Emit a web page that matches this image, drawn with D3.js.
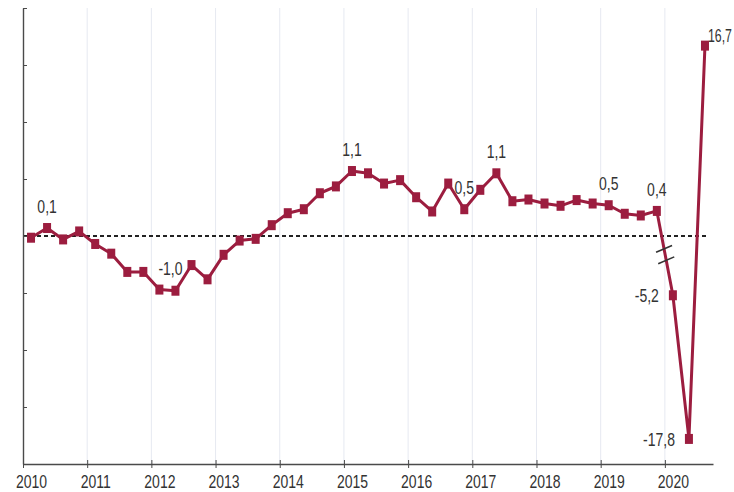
<!DOCTYPE html>
<html>
<head>
<meta charset="utf-8">
<script src="https://cdn.jsdelivr.net/npm/d3@7"></script>
<style>
  html, body { margin: 0; padding: 0; background: #fff; }
  svg { display: block; }
  text { font-family: "Liberation Sans", Arial, sans-serif; }
</style>
</head>
<body>
<svg id="chart" width="734" height="492"></svg>
<script>
// ---- Data ----
const quarters = [
  "2010T1","2010T2","2010T3","2010T4",
  "2011T1","2011T2","2011T3","2011T4",
  "2012T1","2012T2","2012T3","2012T4",
  "2013T1","2013T2","2013T3","2013T4",
  "2014T1","2014T2","2014T3","2014T4",
  "2015T1","2015T2","2015T3","2015T4",
  "2016T1","2016T2","2016T3","2016T4",
  "2017T1","2017T2","2017T3","2017T4",
  "2018T1","2018T2","2018T3","2018T4",
  "2019T1","2019T2","2019T3","2019T4"
];
const values = [
  -0.03, 0.14, -0.06, 0.08,
  -0.14, -0.31, -0.63, -0.63,
  -0.94, -0.96, -0.51, -0.76,
  -0.33, -0.08, -0.05, 0.19,
  0.40, 0.47, 0.75, 0.87,
  1.14, 1.10, 0.92, 0.98,
  0.68, 0.43, 0.92, 0.47,
  0.81, 1.10, 0.61, 0.64,
  0.57, 0.53, 0.63, 0.57,
  0.54, 0.39, 0.36, 0.44
];
// 2020 quarters are drawn on a broken (compressed) scale
const quarters2020 = ["2020T1","2020T2","2020T3"];
const values2020 = [-5.2, -17.8, 16.7];

const yearTicks = [2010,2011,2012,2013,2014,2015,2016,2017,2018,2019,2020];
const yTicks = [-4,-3,-2,-1,0,1,2,3,4];
const labelled = ["2010T2","2012T2","2015T1","2016T4","2017T2","2019T1","2019T4","2020T1","2020T2","2020T3"];

// ---- Setup ----
const svg = d3.select("#chart");
const red = "#9c1d3f";
const axisColor = "#4a4a4a";
const textColor = "#333";
const vStretch = 1.3;

const locale = d3.formatLocale({decimal: ",", thousands: ".", grouping: [3], currency: ["", "€"], minus: "-"});
const fmt = locale.format(".1f");

const x = d3.scaleLinear().domain([2010, 2020.75]).range([23, 713]);
const y = d3.scaleLinear().domain([-4, 4]).range([464, 8]);
const y2020 = d3.scaleLinear().domain([-20, 20]).range([464, 8]);

function qPos(q) {
  const yr = +q.slice(0, 4), qi = +q.slice(5);
  return yr + (qi - 0.5) / 4;
}

const pts = quarters.map((q, i) => ({q, v: values[i], px: x(qPos(q)), py: y(values[i])}))
  .concat(quarters2020.map((q, i) => ({q, v: values2020[i], px: x(qPos(q)), py: y2020(values2020[i])})));

// ---- Gridlines ----
svg.append("g").selectAll("line")
  .data(yearTicks.filter(d => d > 2010))
  .join("line")
  .attr("x1", d => x(d)).attr("x2", d => x(d))
  .attr("y1", y(4)).attr("y2", y(-4))
  .attr("stroke", "#e6e9f1").attr("stroke-width", 1);

// ---- Zero dashed line ----
svg.append("line")
  .attr("x1", x(2010)).attr("x2", x(2020.66))
  .attr("y1", y(0)).attr("y2", y(0))
  .attr("stroke", "#222").attr("stroke-width", 2)
  .attr("stroke-dasharray", "4,3");

// ---- Axes ----
const yAxis = svg.append("g")
  .attr("transform", `translate(${x(2010)},0)`)
  .call(d3.axisLeft(y).tickValues(yTicks).tickSizeInner(-4).tickSizeOuter(0).tickFormat(""));
yAxis.select(".domain").attr("stroke", axisColor).attr("stroke-width", 1.4);
yAxis.selectAll(".tick line").attr("stroke", axisColor);

const xAxis = svg.append("g")
  .attr("transform", `translate(0,${y(-4)})`)
  .call(d3.axisBottom(x).tickValues(yearTicks).tickSizeInner(5).tickSizeOuter(0).tickFormat(d3.format("d")));
xAxis.select(".domain").attr("stroke", axisColor).attr("stroke-width", 1.4);
xAxis.selectAll(".tick line").attr("stroke", axisColor).attr("y1", -4).attr("y2", 4);
xAxis.selectAll(".tick text")
  .attr("y", 0).attr("dy", 0)
  .attr("transform", d => `translate(${x(d + 0.125) - x(d)},${24}) scale(1,${vStretch})`)
  .attr("font-size", 14)
  .attr("font-family", '"Liberation Sans", Arial, sans-serif')
  .attr("fill", textColor);

// ---- Line ----
svg.append("path")
  .datum(pts)
  .attr("d", d3.line().x(d => d.px).y(d => d.py))
  .attr("fill", "none")
  .attr("stroke", red)
  .attr("stroke-width", 3)
  .attr("stroke-linejoin", "round");

// ---- Break marks on the 2019T4 -> 2020T1 segment ----
const a = pts[quarters.length - 1], b = pts[quarters.length];
[0.45, 0.585].forEach(t => {
  const cx = a.px + (b.px - a.px) * t, cy = a.py + (b.py - a.py) * t;
  svg.append("line")
    .attr("x1", cx - 8).attr("y1", cy + 3.4)
    .attr("x2", cx + 8).attr("y2", cy - 3.4)
    .attr("stroke", "#333").attr("stroke-width", 1.6);
});

// ---- Markers ----
svg.append("g").selectAll("rect")
  .data(pts)
  .join("rect")
  .attr("x", d => d.px - 4)
  .attr("y", d => d.py - 5)
  .attr("width", 8)
  .attr("height", 10)
  .attr("fill", red);

// ---- Value labels ----
const placement = {"2020T1": "left", "2020T2": "left", "2020T3": "right", "2012T2": "aboveLeft"};
const labels = svg.append("g").selectAll("text")
  .data(pts.filter(d => labelled.includes(d.q)))
  .join("text")
  .attr("font-size", 14)
  .attr("fill", textColor)
  .attr("text-anchor", d => placement[d.q] === "left" ? "end" : (placement[d.q] === "right" ? "start" : "middle"))
  .attr("transform", d => {
    const p = placement[d.q];
    let tx = d.px, ty = d.py - 15;
    if (p === "left") { tx = d.px - 14; ty = d.py + 7; }
    else if (p === "right") { tx = d.px + 3; ty = d.py - 4; }
    else if (p === "aboveLeft") { tx = d.px - 5; ty = d.py - 16; }
    return `translate(${tx},${ty}) scale(1,${vStretch})`;
  })
  .text(d => fmt(d.v));

// keep the right-hand label inside the picture
labels.filter(d => placement[d.q] === "right")
  .attr("textLength", 24)
  .attr("lengthAdjust", "spacingAndGlyphs");
</script>
</body>
</html>
